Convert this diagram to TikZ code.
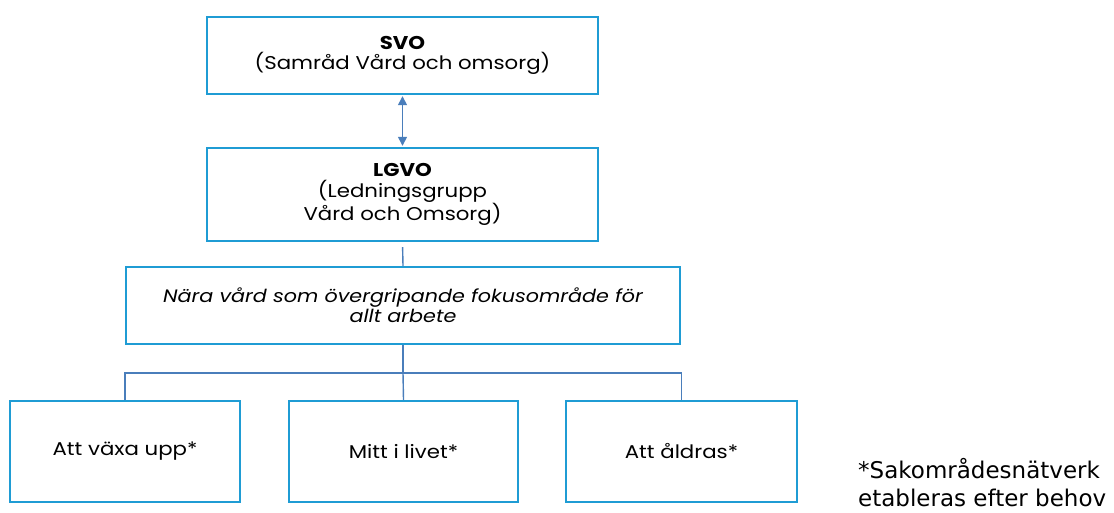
\documentclass[tikz,border=0pt]{standalone}
\usepackage{fontspec}
\setmainfont{Poppins}[FakeStretch=1.15]
\newfontfamily\notefont{DejaVu Sans}
\usetikzlibrary{arrows.meta}
\definecolor{boxblue}{HTML}{1F9CD4}
\definecolor{linkblue}{HTML}{4A7EBB}
\tikzset{
  box/.style={draw=boxblue, line width=2.4pt, fill=white, inner sep=0pt, align=center, font=\fontsize{18.5}{20.5}\selectfont},
  link/.style={draw=linkblue, line width=1.4pt},
}
\begin{document}
\begin{tikzpicture}[x=1pt,y=-1pt]
\useasboundingbox (0,0) rectangle (1114,513);
\node[box, minimum width=391pt, minimum height=77pt] (svo) at (402.5,55.5)
  {{\bfseries SVO}\\(Samråd Vård och omsorg)};
\node[box, minimum width=391pt, minimum height=93pt] (lgvo) at (402.5,194.5)
  {{\bfseries LGVO}\\(Ledningsgrupp\\Vård och Omsorg)};
\node[box, minimum width=554pt, minimum height=77pt, font=\fontsize{18}{20}\selectfont\itshape] (nara) at (403,305.5)
  {Nära vård som övergripande fokusområde för\\allt arbete};
\node[box, minimum width=230pt, minimum height=101pt] (b1) at (125,451.5) {Att växa upp*};
\node[box, minimum width=229pt, minimum height=101pt] (b2) at (403.5,451.5) {Mitt i livet*};
\node[box, minimum width=231pt, minimum height=101pt] (b3) at (681.5,451.5) {Att åldras*};
\coordinate (bar) at (403,373);
\draw[link, {Triangle[length=9pt,width=9pt]}-{Triangle[length=9pt,width=9pt]}, shorten <=1pt, shorten >=1pt] (svo.south) -- (lgvo.north);
\draw[link, shorten <=5pt] (lgvo.south) -- (nara.north);
\draw[link] (nara.south) -- (bar);
\draw[link] (bar) -| (b1.north);
\draw[link] (bar) -| (b3.north);
\draw[link] (bar) -- (b2.north);
\node[anchor=base west, align=left, inner sep=0pt, font=\notefont\fontsize{23}{27.5}\selectfont] (note) at (858,506)
  {*Sakområdesnätverk\\etableras efter behov};
\end{tikzpicture}
\end{document}
